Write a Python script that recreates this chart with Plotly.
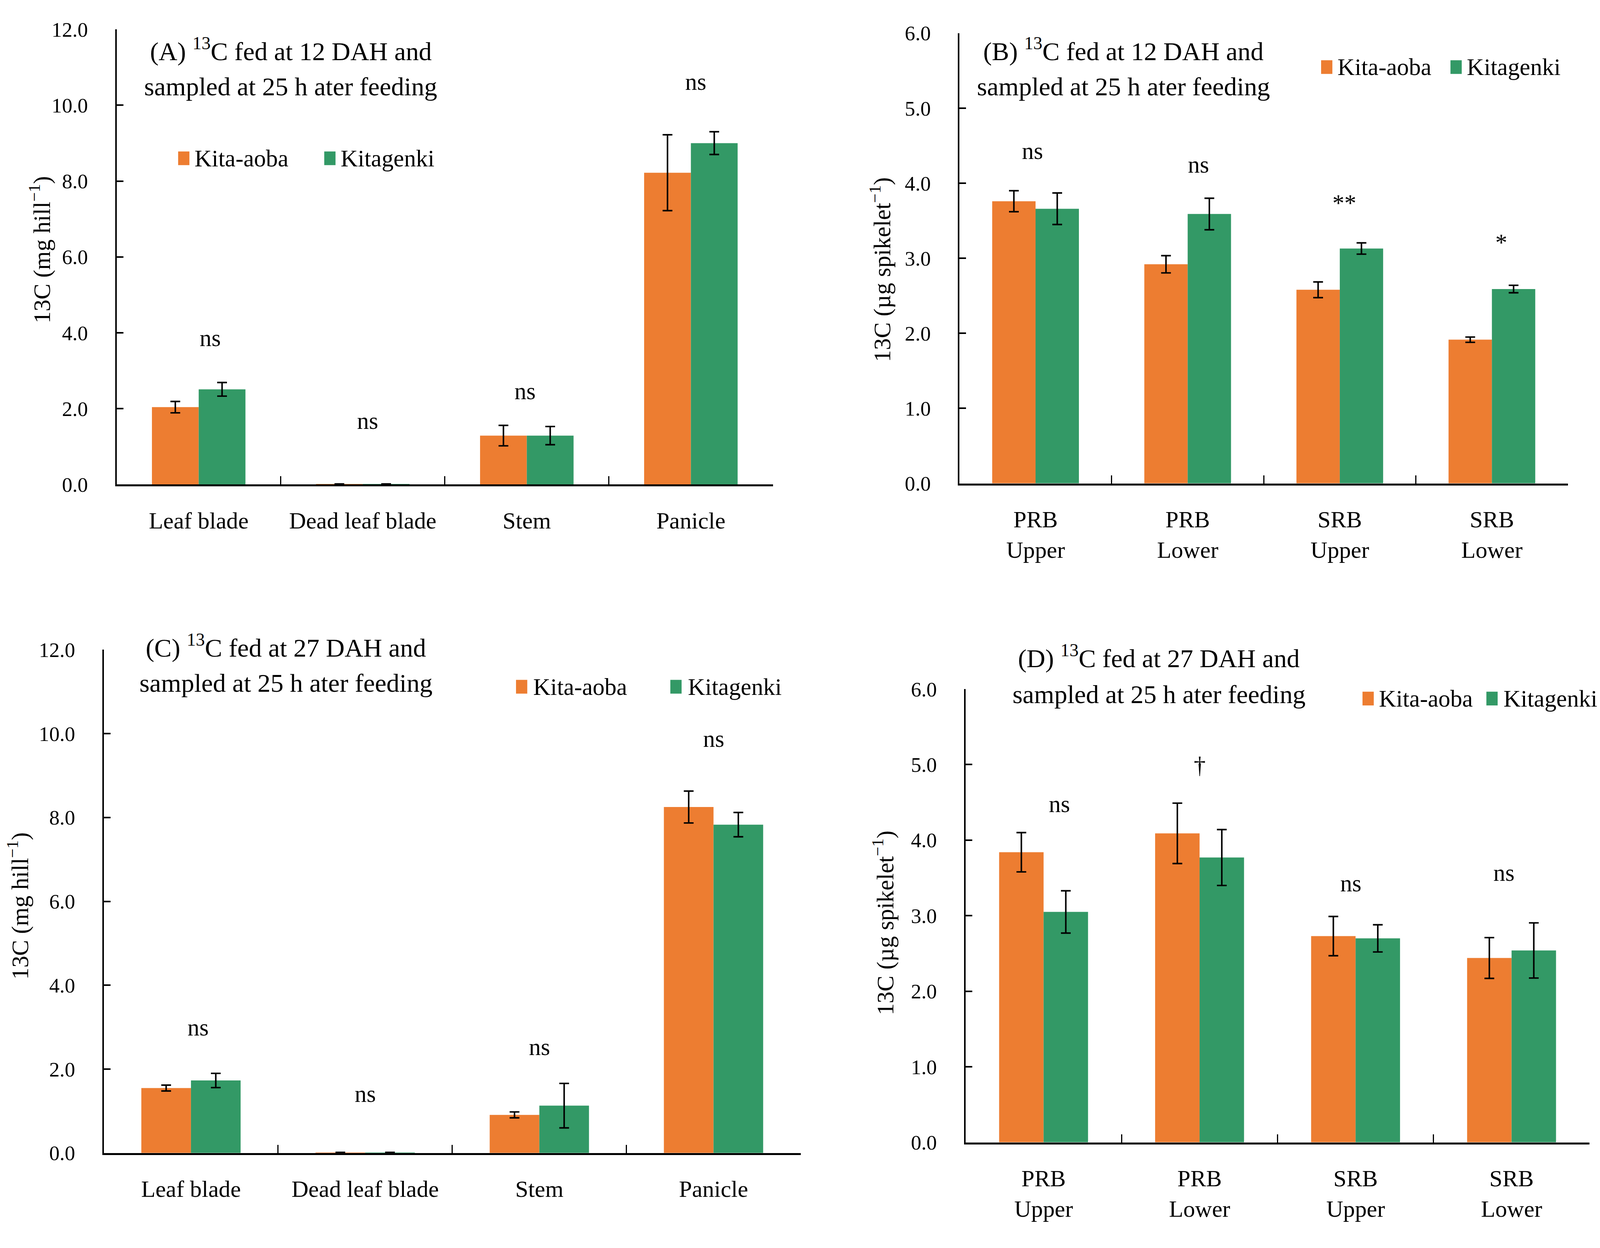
import plotly.graph_objects as go

# Reference geometry is measured in image pixels (5236 x 3195); the figure
# fills the page and is laid out in paper fractions.  Horizontal pixel sizes
# are scaled to the page's CSS width, vertical ones follow the page height.
W, H = 5236, 3195
SX = 1 / 1.28   # horizontal CSS px per reference px
SY = 1.0        # vertical CSS px per reference px
FONT = "Liberation Serif, Times New Roman, serif"
ORANGE = "#ED7D31"
GREEN = "#339966"

# ---------------- data ----------------
organ_cats = ["Leaf blade", "Dead leaf blade", "Stem", "Panicle"]
spike_cats = ["PRB<br>Upper", "PRB<br>Lower", "SRB<br>Upper", "SRB<br>Lower"]
series_names = ["Kita-aoba", "Kitagenki"]

A_kitaaoba = [2.04, 0.01, 1.29, 8.22]
A_kitaaoba_err = [0.15, 0.005, 0.27, 1.00]
A_kitagenki = [2.51, 0.01, 1.29, 9.00]
A_kitagenki_err = [0.18, 0.005, 0.24, 0.30]
A_sig = ["ns", "ns", "ns", "ns"]
A_sig_y = [3.86, 1.68, 2.46, 10.62]
A_sig_dx = [0.07, 0.03, -0.01, 0.03]

B_kitaaoba = [3.76, 2.92, 2.58, 1.915]
B_kitaaoba_err = [0.14, 0.115, 0.105, 0.035]
B_kitagenki = [3.66, 3.59, 3.13, 2.59]
B_kitagenki_err = [0.21, 0.21, 0.075, 0.05]
B_sig = ["ns", "ns", "**", "*"]
B_sig_y = [4.43, 4.25, 3.74, 3.21]
B_sig_dx = [-0.02, 0.07, 0.03, 0.06]

C_kitaaoba = [1.55, 0.01, 0.91, 8.25]
C_kitaaoba_err = [0.07, 0.005, 0.07, 0.38]
C_kitagenki = [1.73, 0.01, 1.13, 7.83]
C_kitagenki_err = [0.17, 0.005, 0.53, 0.29]
C_sig = ["ns", "ns", "ns", "ns"]
C_sig_y = [2.99, 1.41, 2.53, 9.88]
C_sig_dx = [0.04, 0.0, 0.0, 0.0]

D_kitaaoba = [3.84, 4.09, 2.73, 2.44]
D_kitaaoba_err = [0.26, 0.40, 0.26, 0.27]
D_kitagenki = [3.05, 3.77, 2.70, 2.54]
D_kitagenki_err = [0.28, 0.37, 0.18, 0.365]
D_sig = ["ns", "\u2020", "ns", "ns"]
D_sig_y = [4.48, 4.99, 3.43, 3.57]
D_sig_dx = [0.10, 0.0, -0.03, -0.05]

y_ticks_mg = [0, 2, 4, 6, 8, 10, 12]
y_ticks_ug = [0, 1, 2, 3, 4, 5, 6]

titles = {
    "A": ["(A) <sup>13</sup>C fed at 12 DAH and", "sampled at 25 h ater feeding"],
    "B": ["(B) <sup>13</sup>C fed at 12 DAH and", "sampled at 25 h ater feeding"],
    "C": ["(C) <sup>13</sup>C fed at 27 DAH and", "sampled at 25 h ater feeding"],
    "D": ["(D) <sup>13</sup>C fed at 27 DAH and", "sampled at 25 h ater feeding"],
}
ytitle_mg = "13C (mg hill<sup>\u22121</sup>)"
ytitle_ug = "13C (\u00b5g spikelet<sup>\u22121</sup>)"

# ---------------- layout geometry (reference pixels) ----------------
panels = {
    #      x0    x1    ytop  ybot
    "A": (373, 2529, 40, 1233),
    "B": (3142, 5141, 50, 1230),
    "C": (331, 2620, 1666, 2985),
    "D": (3162, 5212, 1769, 2957),
}

def px(x):
    return x / W

def py(y):
    return 1 - y / H

def fx(v):
    return v * SX

def fy(v):
    return v * SY

fig = go.Figure()

panel_data = {
    "A": (organ_cats, A_kitaaoba, A_kitaaoba_err, A_kitagenki, A_kitagenki_err, A_sig, A_sig_y, A_sig_dx, 12, y_ticks_mg, ytitle_mg),
    "B": (spike_cats, B_kitaaoba, B_kitaaoba_err, B_kitagenki, B_kitagenki_err, B_sig, B_sig_y, B_sig_dx, 6, y_ticks_ug, ytitle_ug),
    "C": (organ_cats, C_kitaaoba, C_kitaaoba_err, C_kitagenki, C_kitagenki_err, C_sig, C_sig_y, C_sig_dx, 12, y_ticks_mg, ytitle_mg),
    "D": (spike_cats, D_kitaaoba, D_kitaaoba_err, D_kitagenki, D_kitagenki_err, D_sig, D_sig_y, D_sig_dx, 6, y_ticks_ug, ytitle_ug),
}

title_pos = {"A": (945, 93, 190), "B": (3680, 93, 190), "C": (929, 1656, 1753), "D": (3797, 1683, 1783)}
ytitle_pos = {"A": (122, 618), "B": (2884, 670), "C": (50, 2337), "D": (2893, 2382)}
# legend: (swatch1 x, text1 x, swatch2 x, text2 x, y center)
legend_pos = {
    "A": (575, 627, 1055, 1108, 378),
    "B": (4330, 4382, 4755, 4808, 139),
    "C": (1685, 1740, 2192, 2249, 1763),
    "D": (4466, 4519, 4873, 4928, 1794),
}

annotations = []
shapes = []
layout_axes = {}

for i, key in enumerate(["A", "B", "C", "D"]):
    n = "" if i == 0 else str(i + 1)
    xa, ya = "x" + n, "y" + n
    cats, ka, kae, kg, kge, sig, sigy, sigdx, ymax, yt, ytitle = panel_data[key]
    x0, x1, yt0, yb0 = panels[key]

    for name, vals, errs, col in [(series_names[0], ka, kae, ORANGE), (series_names[1], kg, kge, GREEN)]:
        fig.add_trace(go.Bar(
            x=cats, y=vals, name=name, marker=dict(color=col, line=dict(width=0)),
            error_y=dict(type="data", array=errs, visible=True, color="black",
                         thickness=fx(5), width=fx(16)),
            xaxis=xa, yaxis=ya, showlegend=False,
        ))

    layout_axes["xaxis" + n] = dict(
        domain=[px(x0), px(x1)], anchor=ya, type="category",
        showline=True, linecolor="black", linewidth=fy(5),
        ticks="inside", tickson="boundaries", ticklen=fy(21), tickwidth=fx(4), tickcolor="black",
        showgrid=False, zeroline=False, ticklabelstandoff=int(round(fy(35))),
        tickfont=dict(family=FONT, size=fx(77), color="black"),
        fixedrange=True,
    )
    layout_axes["yaxis" + n] = dict(
        domain=[py(yb0), py(yt0)], anchor=xa, range=[0, ymax],
        tickmode="array", tickvals=yt, ticktext=[f"{v:.1f}" for v in yt],
        showline=True, linecolor="black", linewidth=fx(5),
        ticks="inside", ticklen=fx(22), tickwidth=fy(4), tickcolor="black",
        showgrid=False, zeroline=False, ticklabelstandoff=int(round(fx(76))),
        tickfont=dict(family=FONT, size=fx(68), color="black"),
        fixedrange=True,
    )

    # significance labels
    for j, (s, yv, dx) in enumerate(zip(sig, sigy, sigdx)):
        annotations.append(dict(
            x=j + dx, y=yv, xref=xa, yref=ya, text=s, showarrow=False,
            xanchor="center", yanchor="middle",
            font=dict(family=FONT, size=fx(78), color="black"),
        ))

    # panel title (two lines)
    tx, ty1, ty2 = title_pos[key]
    for line, tyy in zip(titles[key], [ty1, ty2]):
        annotations.append(dict(
            x=px(tx), y=py(tyy), xref="paper", yref="paper", text=line, showarrow=False,
            xanchor="center", yanchor="middle", borderpad=0,
            font=dict(family=FONT, size=fx(85), color="black"),
        ))

    # y-axis title
    yx, yy = ytitle_pos[key]
    annotations.append(dict(
        x=px(yx), y=py(yy), xref="paper", yref="paper", text=ytitle, showarrow=False,
        textangle=-90, xanchor="center", yanchor="middle",
        font=dict(family=FONT, size=fx(78), color="black"),
    ))

    # legend
    s1, t1, s2, t2, lyc = legend_pos[key]
    for sx, tx_, col, name in [(s1, t1, ORANGE, series_names[0]), (s2, t2, GREEN, series_names[1])]:
        shapes.append(dict(
            type="rect", xref="paper", yref="paper",
            x0=px(sx), x1=px(sx + 37), y0=py(lyc + 18), y1=py(lyc - 18),
            fillcolor=col, line=dict(width=0),
        ))
        annotations.append(dict(
            x=px(tx_), y=py(lyc), xref="paper", yref="paper", text=name, showarrow=False,
            xanchor="left", yanchor="middle", borderpad=0,
            font=dict(family=FONT, size=fx(78), color="black"),
        ))

fig.update_layout(
    autosize=True,
    margin=dict(l=0, r=0, t=0, b=0),
    paper_bgcolor="white", plot_bgcolor="white",
    barmode="group", bargap=0.43, bargroupgap=0,
    font=dict(family=FONT, color="black"),
    annotations=annotations, shapes=shapes,
    showlegend=False,
    **layout_axes,
)

fig.write_html("out.html")
